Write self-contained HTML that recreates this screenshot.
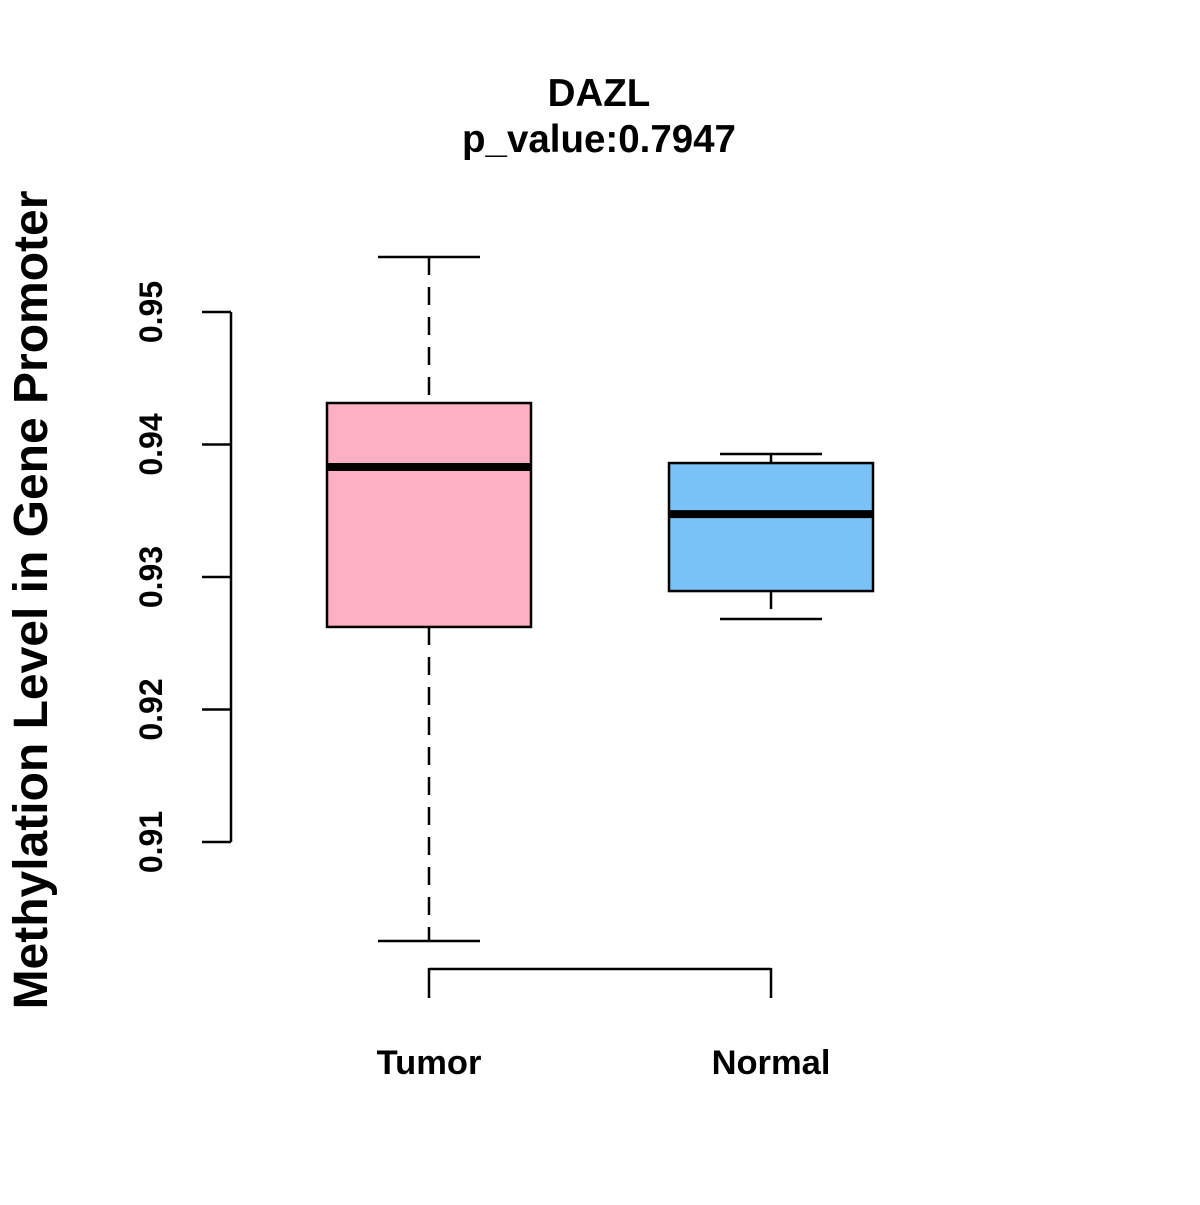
<!DOCTYPE html>
<html><head><meta charset="utf-8"><style>
html,body{margin:0;padding:0;background:#fff}
svg text{font-family:"Liberation Sans",Arial,sans-serif;font-weight:bold;fill:#000}
</style></head><body>
<svg id="chart" width="1200" height="1200" viewBox="0 0 1200 1200">
<text x="599" y="106" font-size="38.5" text-anchor="middle">DAZL</text>
<text x="599" y="152" font-size="38.5" text-anchor="middle">p_value:0.7947</text>
<text transform="translate(47,600) rotate(-90)" font-size="48" text-anchor="middle">Methylation Level in Gene Promoter</text>
<g id="yaxis"></g>
<g id="xaxis"></g>
<g id="boxes"></g>
</svg>
<script>
const categories = ["Tumor", "Normal"];
const whiskerHigh = [0.95415, 0.93928];
const q3 = [0.94313, 0.9386];
const medians = [0.9383, 0.93475];
const q1 = [0.92623, 0.92894];
const whiskerLow = [0.90253, 0.92683];
const fills = ["#FDB0C2", "#78C2F8"];
const yTicks = [0.91, 0.92, 0.93, 0.94, 0.95];
const yTickLabels = ["0.91", "0.92", "0.93", "0.94", "0.95"];

const NS = "http://www.w3.org/2000/svg";
function y(v){ return 312 + (0.95 - v) * 13250; }
function x(i){ return 429 + i * 342; }
function mk(parent, tag, attrs){ const e = document.createElementNS(NS, tag); for (const k in attrs) e.setAttribute(k, attrs[k]); parent.appendChild(e); return e; }

const ya = document.getElementById('yaxis');
const l = mk(ya, 'line', {x1:231, x2:231, y1:y(yTicks[yTicks.length-1]), y2:y(yTicks[0]), stroke:'#000', 'stroke-width':2.5});


yTicks.forEach((t, i) => {
  const tk = mk(ya, 'line', {x1:202, x2:231, y1:y(t), y2:y(t), stroke:'#000', 'stroke-width':2.5});
  
  
  const tx = mk(ya, 'text', {transform:`translate(162,${y(t)}) rotate(-90)`, 'font-size':32, 'text-anchor':'middle'});
  tx.textContent = yTickLabels[i];
  
  
});

const xa = document.getElementById('xaxis');
const xl = mk(xa, 'line', {x1:x(0), x2:x(categories.length-1), y1:969, y2:969, stroke:'#000', 'stroke-width':2.5});


categories.forEach((c, i) => {
  const tk = mk(xa, 'line', {x1:x(i), x2:x(i), y1:968, y2:998, stroke:'#000', 'stroke-width':2.5});
  
  
  const tx = mk(xa, 'text', {x:x(i), y:1074, 'font-size':34.5, 'text-anchor':'middle'});
  tx.textContent = c;
  
  
});

const bx = document.getElementById('boxes');
categories.forEach((c, i) => {
  const cx = x(i);
  const g = mk(bx, 'g', {});
  
  
  const w1 = mk(g, 'line', {x1:cx, x2:cx, y1:y(whiskerHigh[i]), y2:y(q3[i]), stroke:'#000', 'stroke-width':2.5, 'stroke-dasharray':'18,12'});
  
  
  const w2 = mk(g, 'line', {x1:cx, x2:cx, y1:y(q1[i]), y2:y(whiskerLow[i]), stroke:'#000', 'stroke-width':2.5, 'stroke-dasharray':'18,12'});
  
  
  const c1 = mk(g, 'line', {x1:cx-51, x2:cx+51, y1:y(whiskerHigh[i]), y2:y(whiskerHigh[i]), stroke:'#000', 'stroke-width':2.5});
  
  
  const c2 = mk(g, 'line', {x1:cx-51, x2:cx+51, y1:y(whiskerLow[i]), y2:y(whiskerLow[i]), stroke:'#000', 'stroke-width':2.5});
  
  
  const r = mk(g, 'rect', {x:cx-102, width:204, y:y(q3[i]), height:y(q1[i])-y(q3[i]), fill:fills[i], stroke:'#000', 'stroke-width':2.5});
  
  
  const m = mk(g, 'line', {x1:cx-102, x2:cx+102, y1:y(medians[i]), y2:y(medians[i]), stroke:'#000', 'stroke-width':8});
  
  
});
</script>
</body></html>
